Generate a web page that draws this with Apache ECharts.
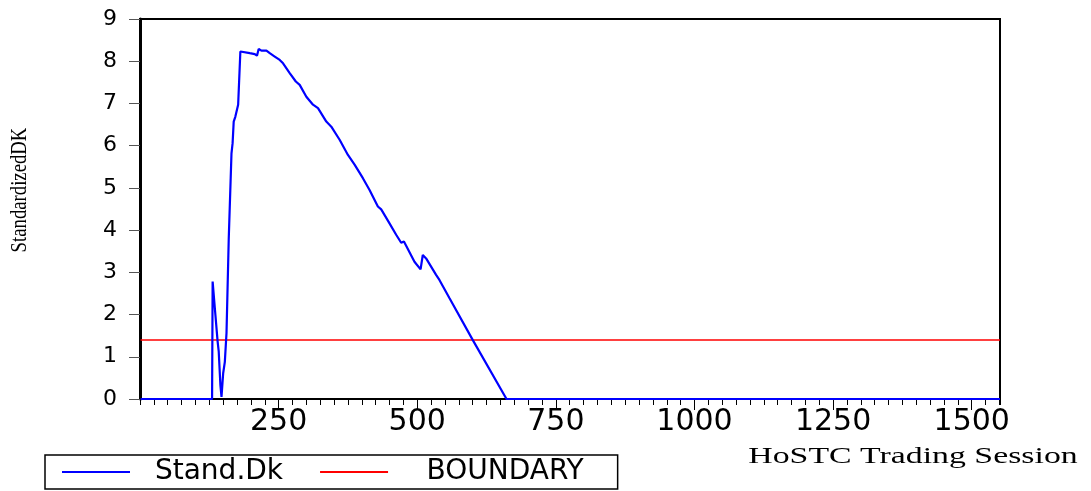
<!DOCTYPE html>
<html>
<head>
<meta charset="utf-8">
<script src="https://cdn.jsdelivr.net/npm/echarts@6/dist/echarts.min.js"></script>
<style>
    html, body { margin: 0; padding: 0; background: #fff; }
    #chart { width: 1091px; height: 491px; }
</style>
</head>
<body>
<div id="chart"></div>

<script>
    // HoSTC trading session numbers and standardized Dk values
    var sessions = [1, 130, 131, 136, 138, 140, 142, 145, 147, 150, 153, 156, 160, 165, 167, 169, 172, 177, 181,
        198, 207, 211, 214, 219, 228, 234, 243, 252, 258, 270, 281, 288, 300, 312, 321, 336, 345, 360, 375,
        387, 402, 414, 429, 435, 450, 462, 471, 476, 495, 506, 510, 516, 534, 540, 558, 600, 661, 1551];
    var standDk = [0, 0, 2.78, 1.99, 1.97, 1.36, 1.12, 0.33, 0.05, 0.61, 0.88, 1.56, 3.77, 5.82, 6.06, 6.57, 6.69, 6.97, 8.23,
        8.19, 8.17, 8.13, 8.29, 8.25, 8.25, 8.19, 8.11, 8.03, 7.95, 7.72, 7.52, 7.44, 7.16, 6.97, 6.89, 6.57, 6.45, 6.14, 5.78,
        5.55, 5.23, 4.95, 4.56, 4.49, 4.16, 3.89, 3.70, 3.73, 3.25, 3.07, 3.41, 3.33, 2.94, 2.82, 2.39, 1.40, 0, 0];

    var boundarySessions = [1, 1551];
    var boundary = [1.4, 1.4];

    var xTicks = [250, 500, 750, 1000, 1250, 1500];
    var yTicks = [0, 1, 2, 3, 4, 5, 6, 7, 8, 9];

    var myChart = echarts.init(document.getElementById('chart'), null, {renderer: 'canvas'});

    function pairs(xs, ys) {
        var out = [];
        for (var i = 0; i < xs.length; i++) {
            out.push([xs[i], ys[i]]);
        }
        return out;
    }

    var option = {
        animation: false,
        backgroundColor: '#fff',
        grid: {
            left: 140,
            right: 91,
            top: 19,
            bottom: 92,
            show: true,
            borderColor: '#000',
            borderWidth: 2
        },
        // legend box under the plot
        legend: {
            left: 45,
            top: 455,
            padding: [3, 34, 3, 17],
            itemGap: 37,
            itemWidth: 68,
            itemHeight: 2,
            icon: 'rect',
            borderColor: '#000',
            borderWidth: 1.5,
            data: ['Stand.Dk', 'BOUNDARY'],
            formatter: function (name) {
                return name === 'Stand.Dk' ? '{a|' + name + '}' : '{b|' + name + '}';
            },
            textStyle: {
                color: '#000',
                rich: {
                    a: {width: 146, padding: [0, 0, 0, 11], align: 'center', fontSize: 28, fontFamily: 'DejaVu Sans', color: '#000'},
                    b: {width: 202, padding: [0, 0, 0, 11], align: 'center', fontSize: 28, fontFamily: 'DejaVu Sans', color: '#000'}
                }
            }
        },
        xAxis: [
            {
                type: 'value',
                min: 0,
                max: 1551,
                interval: 250,
                position: 'bottom',
                axisLine: {show: true, lineStyle: {color: '#000', width: 2}},
                axisTick: {show: true, length: 11, lineStyle: {color: '#000', width: 1}},
                splitLine: {show: false},
                axisLabel: {
                    margin: 8,
                    showMinLabel: false,
                    showMaxLabel: false,
                    color: '#000',
                    fontSize: 30,
                    fontFamily: 'DejaVu Sans',
                    formatter: function (v) {
                        return xTicks.indexOf(v) >= 0 ? String(v) : '';
                    }
                }
            },
            {
                // small ticks every 25 sessions
                type: 'value',
                min: 0,
                max: 1551,
                interval: 25,
                position: 'bottom',
                axisLine: {show: false},
                axisTick: {show: true, length: 6, lineStyle: {color: '#000', width: 1}},
                splitLine: {show: false},
                axisLabel: {show: false}
            }
        ],
        yAxis: {
            type: 'value',
            min: 0,
            max: 9,
            interval: 1,
            axisLine: {show: true, lineStyle: {color: '#000', width: 3}},
            axisTick: {show: true, length: 11, lineStyle: {color: '#555', width: 1}},
            splitLine: {show: false},
            axisLabel: {
                margin: 23,
                color: '#000',
                fontSize: 22,
                fontFamily: 'DejaVu Sans',
                formatter: function (v) {
                    return yTicks.indexOf(v) >= 0 ? String(v) : '';
                }
            }
        },
        graphic: [
            {
                type: 'text',
                x: 20,
                y: 190,
                rotation: Math.PI / 2,
                scaleX: 0.78,
                style: {
                    text: 'StandardizedDK',
                    font: '24px "Liberation Serif"',
                    fill: '#000',
                    align: 'center',
                    verticalAlign: 'middle'
                }
            },
            {
                type: 'text',
                x: 913,
                y: 457,
                scaleX: 1.47,
                style: {
                    text: 'HoSTC Trading Session',
                    font: '23px "Liberation Serif"',
                    fill: '#000',
                    align: 'center',
                    verticalAlign: 'middle'
                }
            }
        ],
        series: [
            {
                name: 'Stand.Dk',
                type: 'line',
                data: pairs(sessions, standDk),
                symbol: 'none',
                lineStyle: {color: '#0000ff', width: 2.2},
                itemStyle: {color: '#0000ff'},
                z: 3
            },
            {
                name: 'BOUNDARY',
                type: 'line',
                data: pairs(boundarySessions, boundary),
                symbol: 'none',
                lineStyle: {color: '#ff0000', width: 1.5},
                itemStyle: {color: '#ff0000'},
                z: 2
            }
        ]
    };

    myChart.setOption(option);
    window.onresize = myChart.resize;
</script>
</body>
</html>
